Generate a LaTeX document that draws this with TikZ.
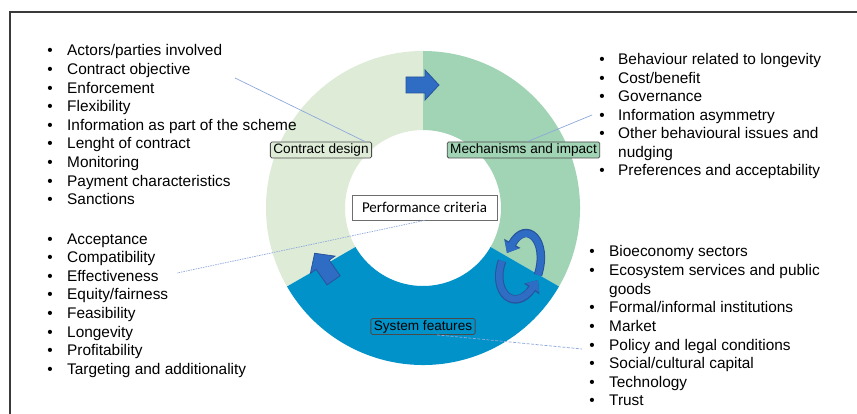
\documentclass[tikz,border=0pt]{standalone}
\usepackage{fontspec}
\setmainfont{Liberation Sans}
\newfontfamily\calib{Carlito}
\usetikzlibrary{calc,arrows.meta}
\definecolor{cdg}{HTML}{DDEBD7}
\definecolor{mig}{HTML}{A1D3B5}
\definecolor{sfb}{HTML}{0092C8}
\definecolor{arb}{HTML}{2F6CC3}
\definecolor{ard}{HTML}{27549C}
\definecolor{connc}{HTML}{8EA9DB}
\definecolor{frm}{HTML}{3A3A3A}
\definecolor{boxd}{HTML}{4A4A4A}
\tikzset{
 item/.style={anchor=base west, inner sep=0pt, font=\fontsize{15.4}{18.6}\selectfont},
 bul/.style={anchor=base, inner sep=0pt, font=\fontsize{15.4}{18.6}\selectfont},
 lab/.style={draw=boxd, line width=0.8pt, rounded corners=1.5pt, inner xsep=3pt, inner ysep=1.5pt, font=\fontsize{13.6}{15}\selectfont, text height=10pt, text depth=3pt},
 connline/.style={draw=connc, line width=0.7pt},
 bigarrow/.style={fill=arb, draw=ard, line width=0.8pt, line join=miter},
 circout/.style={ard, line width=8.5pt, -{Triangle[length=11pt,width=18pt]}},
 circin/.style={arb, line width=6.5pt, -{Triangle[length=9.5pt,width=15pt]}},
}
\begin{document}
\begin{tikzpicture}[x=1pt,y=-1pt]
\useasboundingbox (0,0) rectangle (857,414);
\fill[white] (0,0) rectangle (857,414);
\draw[frm, line width=1.5pt] (10,420) -- (10,12) -- (862,12);

% ring sectors
\begin{scope}[shift={(423,208)}, y=1pt]
\fill[cdg] (90:157) arc[start angle=90,end angle=210,radius=157] -- (210:78) arc[start angle=210,end angle=90,radius=78] -- cycle;
\fill[mig] (-30:157) arc[start angle=-30,end angle=90,radius=157] -- (90:78) arc[start angle=90,end angle=-30,radius=78] -- cycle;
\fill[sfb] (210:157) arc[start angle=210,end angle=330,radius=157] -- (330:78) arc[start angle=330,end angle=210,radius=78] -- cycle;
\end{scope}

% block arrows
\begin{scope}[shift={(422,85)}, y=1pt]
\draw[bigarrow] (-16,-8) -- (3,-8) -- (3,-15) -- (17,0) -- (3,15) -- (3,8) -- (-16,8) -- cycle;
\end{scope}
\begin{scope}[shift={(324.4,267.2)}, y=1pt, rotate=125]
\draw[bigarrow] (-16,-8) -- (3,-8) -- (3,-15) -- (17,0) -- (3,15) -- (3,8) -- (-16,8) -- cycle;
\end{scope}

% circular arrows
\draw[circout] (538,275) .. controls (549,240) and (526,219) .. (507,253);
\draw[circin] (538,275) .. controls (549,240) and (526,219) .. (507,253);
\draw[circout] (502,261) .. controls (491,293) and (515,313) .. (538,280);
\draw[circin] (502,261) .. controls (491,293) and (515,313) .. (538,280);

% labels
\node[lab, fill=cdg] (cd) at (321,150) {Contract design};
\node[lab, fill=mig] (mi) at (523.5,150) {Mechanisms and impact};
\node[lab, fill=sfb] (sf) at (423,326.5) {System features};
\node[draw=boxd!80, line width=0.8pt, fill=white, minimum width=145pt, minimum height=25pt, inner sep=0pt, font=\calib\fontsize{15}{17}\selectfont] (pc) at (424.5,207.5) {Performance criteria};

% connectors
\coordinate (e1) at (235,78);
\coordinate (e2) at (592,115);
\coordinate (e3) at (177,273);
\coordinate (e4) at (582,349);
\draw[connline] ($(cd.north east)+(-7,0)$) -- (e1);
\draw[connline] ($(mi.north)+(4,0)$) -- (e2);
\draw[connline, dash pattern=on 1.5pt off 1pt] (pc.south) -- (e3);
\draw[connline, dash pattern=on 3pt off 1.5pt] ($(sf.south)+(14,0)$) -- (e4);

% left top list
\foreach \t [count=\i from 0] in {Actors/parties involved, Contract objective, Enforcement, Flexibility, Information as part of the scheme, Lenght of contract, Monitoring, Payment characteristics, Sanctions} {
 \node[bul] (lab\i) at (50,{56+18.6*\i}) {•};
 \node[item] (lat\i) at (67,{56+18.6*\i}) {\t};
}
% left bottom list
\foreach \t [count=\i from 0] in {Acceptance, Compatibility, Effectiveness, Equity/fairness, Feasibility, Longevity, Profitability, Targeting and additionality} {
 \node[bul] (lbb\i) at (50,{244+18.6*\i}) {•};
 \node[item] (lbt\i) at (67,{244+18.6*\i}) {\t};
}
% right top list
\foreach \t [count=\i from 0] in {Behaviour related to longevity, Cost/benefit, Governance, Information asymmetry, Other behavioural issues and, nudging, Preferences and acceptability} {
 \node[item] (rat\i) at (618,{65+18.5*\i}) {\t};
}
\foreach \i in {0,1,2,3,4,6} {
 \node[bul] (rab\i) at (602,{65+18.5*\i}) {•};
}
% right bottom list
\foreach \t [count=\i from 0] in {Bioeconomy sectors, Ecosystem services and public, goods, Formal/informal institutions, Market, Policy and legal conditions, Social/cultural capital, Technology, Trust} {
 \node[item] (rbt\i) at (609,{257+18.6*\i}) {\t};
}
\foreach \i in {0,1,3,4,5,6,7,8} {
 \node[bul] (rbb\i) at (592,{257+18.6*\i}) {•};
}
\end{tikzpicture}
\end{document}
